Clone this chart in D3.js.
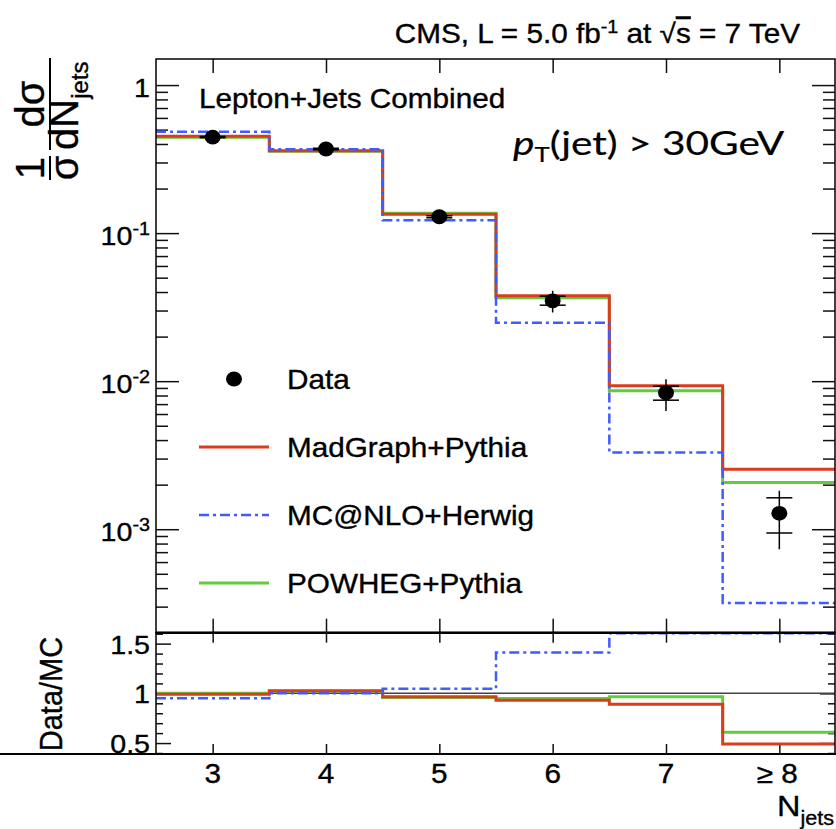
<!DOCTYPE html>
<meta charset="utf-8">
<script src="https://d3js.org/d3.v7.min.js"></script>
<style>
  body { margin: 0; background: #fff; }
  text { font-family: "Liberation Sans", Arial, Helvetica, sans-serif; fill: #000; stroke: #000; stroke-width: 0.35px; }
</style>
<div id="chart"></div>
<script>

// jet multiplicity bins
var nJets = [3, 4, 5, 6, 7, 8]
var binLabels = ["3", "4", "5", "6", "7", "\u2265 8"]

// normalised cross section (main panel)
var dataVals   = [0.445, 0.370, 0.129, 0.0349, 0.00834, 0.00128]
var dataTotLo  = [0.425, 0.355, 0.122, 0.0291, 0.0063, 0.000733]
var dataTotHi  = [0.466, 0.386, 0.137, 0.0408, 0.01032, 0.00182]
var dataStatLo = [0.441, 0.366, 0.127, 0.0326, 0.00744, 0.000944]
var dataStatHi = [0.449, 0.374, 0.131, 0.0375, 0.00925, 0.00163]

var madgraph = [0.452, 0.360, 0.134, 0.0377, 0.0093, 0.00254]
var powheg   = [0.445, 0.357, 0.136, 0.0366, 0.0086, 0.00207]
var mcatnlo  = [0.484, 0.368, 0.122, 0.0248, 0.0033, 0.000318]

// Data/MC ratio (lower panel)
var ratioMadgraph = [0.99, 1.025, 0.965, 0.93, 0.89, 0.49]
var ratioPowheg   = [1.0, 1.02, 0.958, 0.947, 0.965, 0.61]
var ratioMcatnlo  = [0.95, 1.0, 1.047, 1.41, 2.5, 4.0]

var yMajor = [1e-3, 1e-2, 1e-1, 1]
var yMajorLabels = ["3", "2", "1", ""]   // exponents, "" -> plain "1"
var ratioMajor = [0.5, 1, 1.5]

var colRed = "#dc3c1e", colGreen = "#62cc3c", colBlue = "#3f5cff"
var sx = 1.1   // text in the picture is a bit wider than Helvetica

var W = 836, H = 829
var xL = 156, xR = 835
var mainTop = 59, mainBot = 632.7
var ratTop = 632.7, ratBot = 754

var svg = d3.select("#chart").append("svg").attr("width", W).attr("height", H)

var x = d3.scaleLinear().domain([2.5, 8.5]).range([xL, 836])
var y = d3.scaleLog().domain([2e-4, 1.5]).range([mainBot, mainTop])
var yr = d3.scaleLinear().domain([0.39, 1.61]).range([ratBot, ratTop])

var defs = svg.append("defs")
defs.append("clipPath").attr("id", "clipMain").append("rect")
  .attr("x", xL).attr("y", mainTop).attr("width", xR - xL).attr("height", mainBot - mainTop)
defs.append("clipPath").attr("id", "clipRatio").append("rect")
  .attr("x", xL).attr("y", ratTop).attr("width", xR - xL).attr("height", ratBot - ratTop)

function stepPts(vals) {
  var pts = []
  vals.forEach(function(v, i) {
    pts.push([nJets[i] - 0.5, v])
    pts.push([nJets[i] + 0.5, v])
  })
  return pts
}

var lineMain = d3.line().x(function(d){ return x(d[0]) }).y(function(d){ return y(d[1]) })
var lineRatio = d3.line().x(function(d){ return x(d[0]) })
  .y(function(d){ return yr(Math.min(d[1], 1.605)) })

// ---- minor tick values
var yMinor = []
for (var e = -4; e <= 0; e++) {
  for (var k = 2; k <= 9; k++) {
    var v = k * Math.pow(10, e)
    if (v > 2.01e-4 && v < 1.5) yMinor.push(v)
  }
}
var ratioMinor = d3.range(4, 17).map(function(d){ return d / 10 }).filter(function(d){ return ratioMajor.indexOf(d) < 0 })

function axisG(tr, ax) {
  var g = svg.append("g").attr("transform", tr).call(ax)
  g.select(".domain").remove()
  g.selectAll("line").attr("stroke", "#111").attr("stroke-width", 1.5)
  return g
}

// main panel ticks
axisG("translate(" + xL + ",0)", d3.axisLeft(y).tickValues(yMajor).tickSize(-23).tickFormat(""))
axisG("translate(" + xL + ",0)", d3.axisLeft(y).tickValues(yMinor).tickSize(-12).tickFormat(""))
axisG("translate(" + xR + ",0)", d3.axisRight(y).tickValues(yMajor).tickSize(-23).tickFormat(""))
axisG("translate(" + xR + ",0)", d3.axisRight(y).tickValues(yMinor).tickSize(-12).tickFormat(""))
axisG("translate(0," + mainTop + ")", d3.axisTop(x).tickValues(nJets).tickSize(-14).tickFormat(""))
axisG("translate(0," + mainBot + ")", d3.axisBottom(x).tickValues(nJets).tickSize(-14).tickFormat(""))

// ratio panel ticks
axisG("translate(" + xL + ",0)", d3.axisLeft(yr).tickValues(ratioMajor).tickSize(-15).tickFormat(""))
axisG("translate(" + xL + ",0)", d3.axisLeft(yr).tickValues(ratioMinor).tickSize(-7).tickFormat(""))
axisG("translate(" + xR + ",0)", d3.axisRight(yr).tickValues(ratioMajor).tickSize(-15).tickFormat(""))
axisG("translate(" + xR + ",0)", d3.axisRight(yr).tickValues(ratioMinor).tickSize(-7).tickFormat(""))
axisG("translate(0," + ratTop + ")", d3.axisTop(x).tickValues(nJets).tickSize(-10).tickFormat(""))
axisG("translate(0," + ratBot + ")", d3.axisBottom(x).tickValues(nJets).tickSize(-10).tickFormat(""))

// ---- main panel histograms
var gm = svg.append("g").attr("clip-path", "url(#clipMain)")
gm.append("path").attr("d", lineMain(stepPts(powheg)))
  .attr("fill", "none").attr("stroke", colGreen).attr("stroke-width", 3)
gm.append("path").attr("d", lineMain(stepPts(madgraph)))
  .attr("fill", "none").attr("stroke", colRed).attr("stroke-width", 3)
gm.append("path").attr("d", lineMain(stepPts(mcatnlo)))
  .attr("fill", "none").attr("stroke", colBlue).attr("stroke-width", 2.5)
  .attr("stroke-dasharray", "10,4,3,4")

// data points with total (line) and stat (caps) uncertainties
var pts = gm.selectAll(".pt").data(nJets).enter().append("g")
pts.append("line")
  .attr("x1", function(d){ return x(d) }).attr("x2", function(d){ return x(d) })
  .attr("y1", function(d, i){ return y(dataTotHi[i]) }).attr("y2", function(d, i){ return y(dataTotLo[i]) })
  .attr("stroke", "#000").attr("stroke-width", 1.5)
pts.append("line")
  .attr("x1", function(d){ return x(d) - 13 }).attr("x2", function(d){ return x(d) + 13 })
  .attr("y1", function(d, i){ return y(dataStatHi[i]) }).attr("y2", function(d, i){ return y(dataStatHi[i]) })
  .attr("stroke", "#000").attr("stroke-width", 1.5)
pts.append("line")
  .attr("x1", function(d){ return x(d) - 13 }).attr("x2", function(d){ return x(d) + 13 })
  .attr("y1", function(d, i){ return y(dataStatLo[i]) }).attr("y2", function(d, i){ return y(dataStatLo[i]) })
  .attr("stroke", "#000").attr("stroke-width", 1.5)
pts.append("ellipse")
  .attr("cx", function(d){ return x(d) }).attr("cy", function(d, i){ return y(dataVals[i]) })
  .attr("rx", 8).attr("ry", 7.4).attr("fill", "#000")

// ---- ratio panel
var gr = svg.append("g").attr("clip-path", "url(#clipRatio)")
gr.append("line").attr("x1", xL).attr("x2", xR).attr("y1", yr(1)).attr("y2", yr(1))
  .attr("stroke", "#444").attr("stroke-width", 1.5)
gr.append("path").attr("d", lineRatio(stepPts(ratioPowheg)))
  .attr("fill", "none").attr("stroke", colGreen).attr("stroke-width", 3)
gr.append("path").attr("d", lineRatio(stepPts(ratioMadgraph)))
  .attr("fill", "none").attr("stroke", colRed).attr("stroke-width", 3)
gr.append("path").attr("d", lineRatio(stepPts(ratioMcatnlo)))
  .attr("fill", "none").attr("stroke", colBlue).attr("stroke-width", 2.5)
  .attr("stroke-dasharray", "10,4,3,4")

// frames
svg.append("rect").attr("x", xL).attr("y", mainTop).attr("width", xR - xL).attr("height", mainBot - mainTop)
  .attr("fill", "none").attr("stroke", "#000").attr("stroke-width", 1.5)
svg.append("rect").attr("x", xL).attr("y", ratTop).attr("width", xR - xL).attr("height", ratBot - ratTop)
  .attr("fill", "none").attr("stroke", "#000").attr("stroke-width", 1.5)
svg.append("line").attr("x1", 0).attr("x2", W).attr("y1", ratBot).attr("y2", ratBot)
  .attr("stroke", "#000").attr("stroke-width", 2)
svg.append("line").attr("x1", xL).attr("x2", xR).attr("y1", ratTop).attr("y2", ratTop)
  .attr("stroke", "#000").attr("stroke-width", 2.5)

// ---- tick labels
function stretched(px, py, size, anchor, s) {
  return svg.append("text")
    .attr("transform", "translate(" + px + "," + py + ") scale(" + (s || sx) + ",1)")
    .attr("font-size", size).attr("text-anchor", anchor || "start")
}

yMajor.forEach(function(v, i) {
  var t = stretched(150, y(v) + 12, 26, "end")
  if (yMajorLabels[i] === "") { t.text("1") }
  else {
    t.append("tspan").text("10")
    t.append("tspan").attr("font-size", 18).attr("dy", -10).text("-" + yMajorLabels[i])
  }
})
ratioMajor.forEach(function(v) {
  stretched(150, yr(v) + 10, 26, "end").text(v === 1 ? "1" : String(v))
})
nJets.forEach(function(n, i) {
  stretched(x(n) - (i === 5 ? 2 : 0), 783, 27, "middle", 1.1).text(binLabels[i])
})

// x title
var xt = stretched(834, 816, 30, "end", 1.08)
xt.append("tspan").text("N")
xt.append("tspan").attr("font-size", 20).attr("dy", 9).text("jets")

// y title (rotated fraction)
var yt = svg.append("g").attr("transform", "rotate(-90)")
yt.append("text").attr("x", -168).attr("y", 44).attr("font-size", 40).attr("text-anchor", "middle").text("1")
yt.append("line").attr("x1", -180).attr("x2", -156).attr("y1", 50).attr("y2", 50).attr("stroke", "#000").attr("stroke-width", 2)
yt.append("text").attr("x", -168).attr("y", 78).attr("font-size", 40).attr("text-anchor", "middle").text("\u03c3")
yt.append("text").attr("x", -104).attr("y", 44).attr("font-size", 40).attr("text-anchor", "middle").text("d\u03c3")
yt.append("line").attr("x1", -150).attr("x2", -58).attr("y1", 50).attr("y2", 50).attr("stroke", "#000").attr("stroke-width", 2)
var dn = yt.append("text").attr("x", -150).attr("y", 78).attr("font-size", 40)
dn.append("tspan").text("dN")
dn.append("tspan").attr("font-size", 24).attr("dy", 10).text("jets")

// ratio title
svg.append("text").attr("transform", "translate(62,694) rotate(-90) scale(1,1.1)")
  .attr("font-size", 29).attr("text-anchor", "middle").text("Data/MC")

// ---- header and labels
var hd = stretched(800, 43, 27, "end")
hd.append("tspan").text("CMS, L = 5.0 fb")
hd.append("tspan").attr("font-size", 18).attr("dy", -10).text("-1")
hd.append("tspan").attr("dy", 10).text(" at  \u221a")
hd.append("tspan").style("text-decoration", "overline").text("s")
hd.append("tspan").text(" = 7 TeV")

stretched(199, 108, 27, "start").text("Lepton+Jets Combined")

var pt = svg.append("text")
  .attr("transform", "translate(513,155) scale(1.23,1)")
  .attr("font-size", 33).style("font-family", "Lato, 'Open Sans', sans-serif")
  .style("stroke-width", "0.2px")
pt.append("tspan").attr("font-style", "italic").text("p")
pt.append("tspan").attr("font-size", 21).attr("dy", 7).text("T")
pt.append("tspan").attr("dy", -7).text("(jet) > 30GeV")

// ---- legend
var legY = [379, 447, 515, 583]
var legNames = ["Data", "MadGraph+Pythia", "MC@NLO+Herwig", "POWHEG+Pythia"]
svg.append("ellipse").attr("cx", 234).attr("cy", legY[0]).attr("rx", 8).attr("ry", 7.4).attr("fill", "#000")
svg.append("line").attr("x1", 199).attr("x2", 269).attr("y1", legY[1]).attr("y2", legY[1])
  .attr("stroke", colRed).attr("stroke-width", 3)
svg.append("line").attr("x1", 199).attr("x2", 269).attr("y1", legY[2]).attr("y2", legY[2])
  .attr("stroke", colBlue).attr("stroke-width", 2.5).attr("stroke-dasharray", "10,4,3,4")
svg.append("line").attr("x1", 199).attr("x2", 269).attr("y1", legY[3]).attr("y2", legY[3])
  .attr("stroke", colGreen).attr("stroke-width", 3)
legNames.forEach(function(nm, i) {
  stretched(287, legY[i] + 10, 27, "start").text(nm)
})

</script>
